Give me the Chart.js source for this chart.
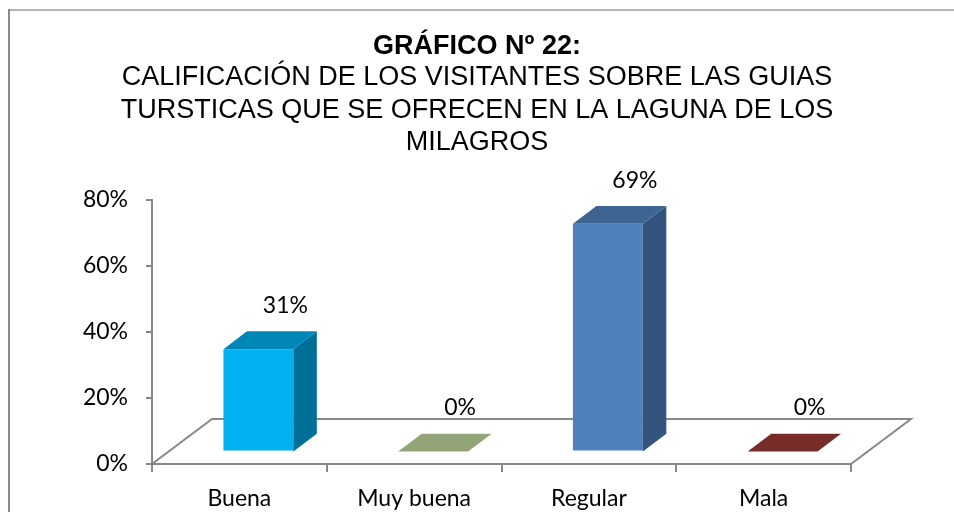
<!DOCTYPE html>
<html>
<head>
<meta charset="utf-8">
<script src="https://cdn.jsdelivr.net/npm/chart.js@4.4.1/dist/chart.umd.min.js"></script>
<style>
  html, body { margin: 0; padding: 0; background: #fff; }
  #wrap { width: 954px; height: 512px; }
</style>
</head>
<body>
<div id="wrap"><canvas id="chart" width="954" height="512"></canvas></div>
<script>
// Data
const categories = ['Buena', 'Muy buena', 'Regular', 'Mala'];
const percentages = [31, 0, 69, 0];
const yTicks = [0, 20, 40, 60, 80];
const titleText = 'GRÁFICO Nº 22:';
const subtitleLines = [
  'CALIFICACIÓN DE LOS VISITANTES SOBRE LAS GUIAS',
  'TURSTICAS QUE SE OFRECEN EN LA LAGUNA DE LOS',
  'MILAGROS'
];

// Face colours (front / top / side)
const frontColors = ['#00B0F0', '#9BBB59', '#4F81BD', '#C0504D'];
const topColors = ['#0086B7', '#93A578', '#3E6492', '#772C2A'];
const sideColors = ['#006F97', '#7A8C52', '#33547D', '#5E2220'];

const AXIS_GRAY = '#888888';
const LABEL_FONT = 'Lato, "Open Sans", sans-serif';
const TITLE_FONT = '"Liberation Sans", Arial, sans-serif';

// fake 3D geometry (pixels)
const FLOOR_DX = 60, FLOOR_DY = -45;
const BAR_DX = 19, BAR_DY = -12.5;
const DEPTH_DX = 23.5, DEPTH_DY = -17.8;

function poly(ctx, pts, color) {
  ctx.beginPath();
  ctx.moveTo(pts[0][0], pts[0][1]);
  for (let i = 1; i < pts.length; i++) ctx.lineTo(pts[i][0], pts[i][1]);
  ctx.closePath();
  ctx.fillStyle = color;
  ctx.fill();
}

const threeD = {
  id: 'threeD',
  beforeDraw(chart) {
    const ctx = chart.ctx;
    ctx.save();
    ctx.fillStyle = '#fff';
    ctx.fillRect(0, 0, chart.width, chart.height);
    // outer frame (only top and left visible)
    ctx.lineWidth = 2;
    ctx.strokeStyle = '#b4b4b4';
    ctx.beginPath();
    ctx.moveTo(8, 10);
    ctx.lineTo(chart.width, 10);
    ctx.stroke();
    ctx.strokeStyle = '#8a8a8a';
    ctx.beginPath();
    ctx.moveTo(9, 9);
    ctx.lineTo(9, chart.height);
    ctx.stroke();
    ctx.restore();
  },
  beforeDatasetsDraw(chart) {
    const { ctx, chartArea: a } = chart;
    ctx.save();
    ctx.beginPath();
    ctx.moveTo(a.left, a.bottom);
    ctx.lineTo(a.right, a.bottom);
    ctx.lineTo(a.right + FLOOR_DX, a.bottom + FLOOR_DY);
    ctx.lineTo(a.left + FLOOR_DX, a.bottom + FLOOR_DY);
    ctx.closePath();
    ctx.fillStyle = '#fff';
    ctx.fill();
    ctx.strokeStyle = AXIS_GRAY;
    ctx.lineWidth = 2;
    ctx.stroke();
    ctx.restore();
    // bars sit in the middle of the floor depth
    ctx.save();
    ctx.translate(BAR_DX, BAR_DY);
  },
  afterDatasetsDraw(chart) {
    const ctx = chart.ctx;
    ctx.restore();
    const base = chart.scales.y.getPixelForValue(0);
    ctx.save();
    chart.getDatasetMeta(0).data.forEach((bar, i) => {
      const half = bar.width / 2;
      const l = bar.x - half + BAR_DX, r = bar.x + half + BAR_DX;
      const t = bar.y + BAR_DY, b = base + BAR_DY;
      if (b - t > 0.5) {
        poly(ctx, [[r, t], [r, b], [r + DEPTH_DX, b + DEPTH_DY], [r + DEPTH_DX, t + DEPTH_DY]], sideColors[i]);
      }
      poly(ctx, [[l, t], [r, t], [r + DEPTH_DX, t + DEPTH_DY], [l + DEPTH_DX, t + DEPTH_DY]], topColors[i]);

      ctx.fillStyle = '#000';
      ctx.font = '23px ' + LABEL_FONT;
      ctx.textAlign = 'center';
      ctx.textBaseline = 'middle';
      ctx.fillText(percentages[i] + '%', bar.x + 46, bar.y - 56);
    });
    ctx.restore();
  }
};

new Chart(document.getElementById('chart'), {
  type: 'bar',
  data: {
    labels: categories,
    datasets: [{
      data: percentages,
      backgroundColor: frontColors,
      borderWidth: 0,
      categoryPercentage: 1,
      barPercentage: 0.4
    }]
  },
  options: {
    responsive: false,
    animation: false,
    layout: { padding: 0 },
    plugins: {
      legend: { display: false },
      tooltip: { enabled: false },
      title: {
        display: true,
        text: titleText,
        color: '#000',
        font: { family: TITLE_FONT, size: 27, weight: 'bold', lineHeight: 1.1 },
        padding: { top: 32, bottom: 0 }
      },
      subtitle: {
        display: true,
        text: subtitleLines,
        color: '#000',
        font: { family: TITLE_FONT, size: 27, weight: 'normal', lineHeight: 1.2 },
        padding: { top: 0, bottom: 41 }
      }
    },
    scales: {
      x: {
        afterFit(scale) { scale.height = 48; },
        grid: { drawOnChartArea: false, drawTicks: true, tickLength: 8, color: AXIS_GRAY, lineWidth: 2, offset: true },
        border: { display: true, color: AXIS_GRAY, width: 2 },
        ticks: { color: '#000', font: { family: LABEL_FONT, size: 23 }, padding: 13, maxRotation: 0, autoSkip: false }
      },
      y: {
        min: yTicks[0],
        max: yTicks[yTicks.length - 1],
        afterFit(scale) { scale.width = 152; },
        grid: { drawOnChartArea: false, drawTicks: true, tickLength: 6, color: AXIS_GRAY, lineWidth: 2 },
        border: { display: true, color: AXIS_GRAY, width: 2 },
        ticks: {
          stepSize: yTicks[1] - yTicks[0],
          color: '#000',
          padding: 18,
          font: { family: LABEL_FONT, size: 23 },
          callback: v => v + '%'
        }
      },
      // empty right-hand axis reserves room for the floor so titles stay centred on the page
      yRight: {
        position: 'right',
        min: yTicks[0],
        max: yTicks[yTicks.length - 1],
        afterFit(scale) { scale.width = 103; },
        grid: { display: false },
        border: { display: false },
        ticks: { display: false }
      }
    }
  },
  plugins: [threeD]
});
</script>
</body>
</html>
